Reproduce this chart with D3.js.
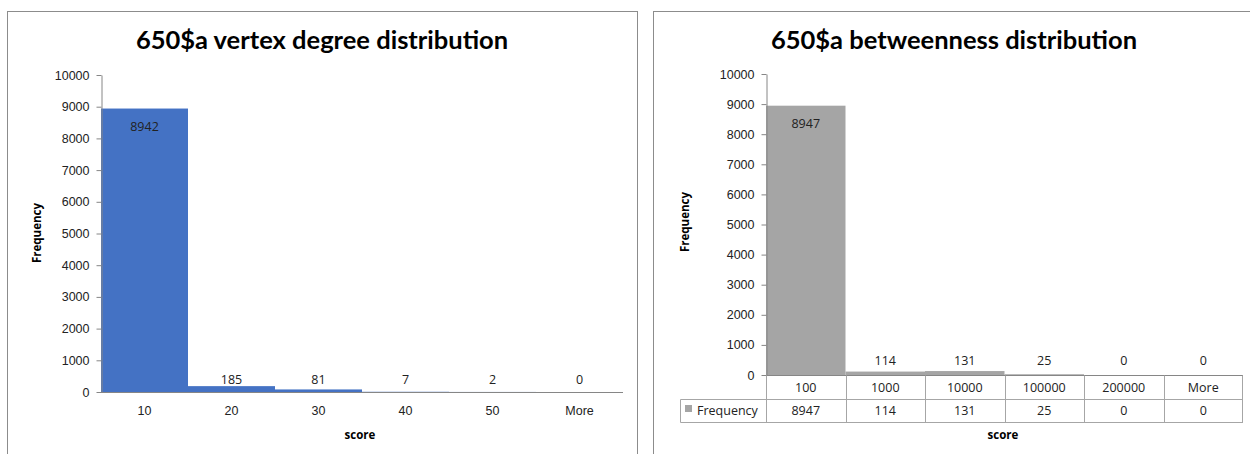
<!DOCTYPE html>
<html>
<head>
<meta charset="utf-8">
<script src="https://cdn.jsdelivr.net/npm/d3@7"></script>
<style>
  body { margin: 0; background: #fff; }
  svg { display: block; font-family: "Open Sans", sans-serif; }
</style>
</head>
<body>
<div id="chart"></div>
<script>
// degree distribution (left)
var degreeBins = ["10", "20", "30", "40", "50", "More"];
var degreeCounts = [8942, 185, 81, 7, 2, 0];

// betweenness distribution (right)
var betweenBins = ["100", "1000", "10000", "100000", "200000", "More"];
var betweenCounts = [8947, 114, 131, 25, 0, 0];

var yTicks = [0, 1000, 2000, 3000, 4000, 5000, 6000, 7000, 8000, 9000, 10000];

var width = 1250,
    height = 454;

var svg = d3.select("#chart").append("svg")
    .attr("width", width)
    .attr("height", height);

function drawPanel(opt) {
    var g = svg.append("g");

    // panel frame
    g.append("rect")
        .attr("x", opt.frame[0] + 0.5).attr("y", opt.frame[1] + 0.5)
        .attr("width", opt.frame[2]).attr("height", opt.frame[3])
        .attr("fill", "#fff").attr("stroke", "#8c8c8c");

    g.append("text")
        .attr("x", opt.titleX).attr("y", 49)
        .attr("text-anchor", "middle")
        .style("font-family", "Lato, sans-serif")
        .style("font-weight", "bold")
        .style("font-size", "25.5px")
        .attr("fill", "#000")
        .text(opt.title);

    var x = d3.scaleBand().domain(opt.bins).range([opt.x0, opt.x1]).padding(0);
    var y = d3.scaleLinear().domain([0, 10000]).range([opt.y0, opt.yTop]);

    // bars
    g.selectAll(".bar")
        .data(opt.counts)
        .enter().append("rect")
        .attr("class", "bar")
        .attr("x", function(d, i) { return x(opt.bins[i]); })
        .attr("y", function(d) { return y(d); })
        .attr("width", x.bandwidth())
        .attr("height", function(d) { return opt.y0 - y(d); })
        .attr("fill", opt.color);

    // y axis
    var yAxis = d3.axisLeft(y).tickValues(yTicks).tickFormat(d3.format("d"))
        .tickSize(5).tickSizeOuter(0).tickPadding(7);
    var ya = g.append("g")
        .attr("transform", "translate(" + (opt.x0 + 0.5) + ",0)")
        .call(yAxis);
    ya.select(".domain").attr("stroke", "#868686");
    ya.selectAll(".tick line").attr("stroke", "#868686");
    ya.selectAll("text")
        .style("font-size", "12.5px")
        .attr("fill", "#222");

    // data labels
    g.selectAll(".lbl")
        .data(opt.counts)
        .enter().append("text")
        .attr("class", "lbl")
        .attr("x", function(d, i) { return x(opt.bins[i]) + x.bandwidth() / 2; })
        .attr("y", function(d) {
            return d > 5000 ? y(d) + 22 : opt.y0 - opt.labelLift;
        })
        .attr("text-anchor", "middle")
        .style("font-size", "12.5px")
        .attr("fill", "#222")
        .text(function(d) { return d; });

    // rotated y title
    g.append("text")
        .attr("transform", "translate(" + opt.yTitleX + "," + opt.yTitleY + ") rotate(-90)")
        .attr("text-anchor", "middle")
        .style("font-size", "11.5px")
        .style("font-weight", "bold")
        .attr("fill", "#000")
        .text("Frequency");

    return { g: g, x: x, y: y };
}

// ---- left chart
var left = drawPanel({
    frame: [7, 11, 630, 450],
    title: "650$a vertex degree distribution",
    titleX: 322,
    bins: degreeBins, counts: degreeCounts,
    x0: 101, x1: 623, y0: 392, yTop: 75,
    color: "#4472C4",
    labelLift: 8,
    yTitleX: 41, yTitleY: 233
});

var xAxisL = d3.axisBottom(left.x).tickSize(0).tickPadding(14);
var xl = left.g.append("g")
    .attr("transform", "translate(0," + 392.5 + ")")
    .call(xAxisL);
xl.select(".domain").attr("stroke", "#868686").attr("d", "M97,0H623");
xl.selectAll("text").style("font-size", "12.5px").attr("fill", "#222");

left.g.append("text")
    .attr("x", 360).attr("y", 439)
    .attr("text-anchor", "middle")
    .style("font-size", "11.5px").style("font-weight", "bold")
    .text("score");

// ---- right chart
var right = drawPanel({
    frame: [653, 11, 620, 450],
    title: "650$a betweenness distribution",
    titleX: 954,
    bins: betweenBins, counts: betweenCounts,
    x0: 766, x1: 1243, y0: 375, yTop: 74,
    color: "#A5A5A5",
    labelLift: 10,
    yTitleX: 689, yTitleY: 222
});

// data table under the bars
var rx = right.x;
var tbl = right.g.append("g");
var rowTop = 375.5, rowMid = 399.5, rowBot = 422.5, tableLeft = 680.5;
var lineColor = "#a6a6a6";

tbl.append("line").attr("x1", 762).attr("x2", 1243).attr("y1", rowTop).attr("y2", rowTop).attr("stroke", "#868686");
tbl.append("line").attr("x1", tableLeft).attr("x2", 1243).attr("y1", rowMid).attr("y2", rowMid).attr("stroke", lineColor);
tbl.append("line").attr("x1", tableLeft).attr("x2", 1243).attr("y1", rowBot).attr("y2", rowBot).attr("stroke", lineColor);
tbl.append("line").attr("x1", tableLeft).attr("x2", tableLeft).attr("y1", rowMid).attr("y2", rowBot).attr("stroke", lineColor);

var edges = betweenBins.map(function(b) { return Math.round(rx(b)) + 0.5; }).concat([1242.5]);
tbl.selectAll(".vline")
    .data(edges)
    .enter().append("line")
    .attr("class", "vline")
    .attr("x1", function(d) { return d; }).attr("x2", function(d) { return d; })
    .attr("y1", rowTop).attr("y2", rowBot)
    .attr("stroke", lineColor);

tbl.selectAll(".cat")
    .data(betweenBins)
    .enter().append("text")
    .attr("class", "cat")
    .attr("x", function(d) { return rx(d) + rx.bandwidth() / 2; })
    .attr("y", 392)
    .attr("text-anchor", "middle")
    .style("font-size", "12.5px").attr("fill", "#222")
    .text(function(d) { return d; });

tbl.selectAll(".val")
    .data(betweenCounts)
    .enter().append("text")
    .attr("class", "val")
    .attr("x", function(d, i) { return rx(betweenBins[i]) + rx.bandwidth() / 2; })
    .attr("y", 415)
    .attr("text-anchor", "middle")
    .style("font-size", "12.5px").attr("fill", "#222")
    .text(function(d) { return d; });

tbl.append("rect")
    .attr("x", 685).attr("y", 405).attr("width", 7).attr("height", 7)
    .attr("fill", "#A5A5A5");
tbl.append("text")
    .attr("x", 697).attr("y", 415)
    .style("font-size", "12.5px").attr("fill", "#222")
    .text("Frequency");

right.g.append("text")
    .attr("x", 1003).attr("y", 439)
    .attr("text-anchor", "middle")
    .style("font-size", "11.5px").style("font-weight", "bold")
    .text("score");
</script>
</body>
</html>
